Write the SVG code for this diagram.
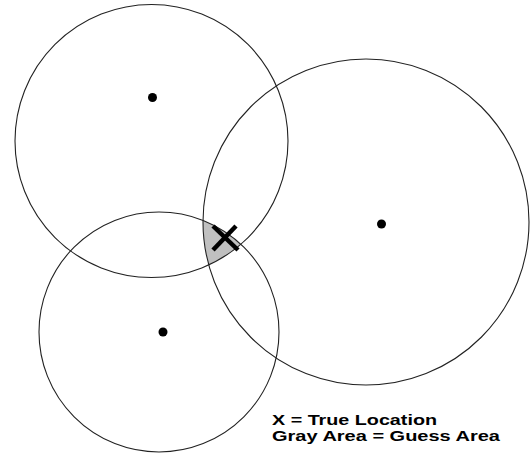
<svg xmlns="http://www.w3.org/2000/svg" width="531" height="454" viewBox="0 0 531 454">
<style>
.ring{fill:none;stroke:#222;stroke-width:1.1}
.dot{fill:#000}
.lbl{font-family:"Liberation Sans",Arial,sans-serif;font-size:15px;font-weight:bold;fill:#000}
</style>
<defs>
<clipPath id="cB"><circle cx="366" cy="222" r="163"/></clipPath>
<clipPath id="cC"><circle cx="159" cy="332" r="120"/></clipPath>
</defs>
<rect width="531" height="454" fill="#fff"/>
<g id="guess-area" clip-path="url(#cC)">
<g clip-path="url(#cB)">
<circle cx="151.5" cy="141" r="136.5" fill="#c0c0c0"/>
</g>
</g>
<g id="circle-top-left">
<circle class="ring" cx="151.5" cy="141" r="136.5"/>
<circle class="dot" cx="152.5" cy="97.5" r="4.5"/>
</g>
<g id="circle-right">
<circle class="ring" cx="366" cy="222" r="163"/>
<circle class="dot" cx="381.5" cy="224" r="4.5"/>
</g>
<g id="circle-bottom">
<circle class="ring" cx="159" cy="332" r="120"/>
<circle class="dot" cx="163" cy="332" r="4.5"/>
</g>
<g id="true-location" stroke="#000" stroke-width="4.5" stroke-linecap="butt">
<line x1="213" y1="226" x2="238" y2="250"/>
<line x1="236" y1="226" x2="213" y2="250"/>
</g>
<g id="legend">
<text class="lbl" x="272" y="425" textLength="165" lengthAdjust="spacingAndGlyphs">X = True Location</text>
<text class="lbl" x="272" y="441" textLength="228" lengthAdjust="spacingAndGlyphs">Gray Area = Guess Area</text>
</g>
</svg>
